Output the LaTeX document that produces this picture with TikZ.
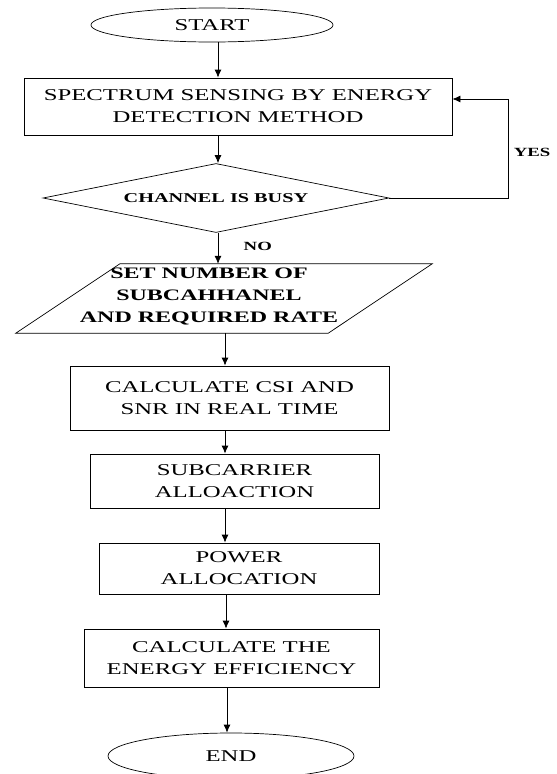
\documentclass[tikz,border=0pt]{standalone}
\usepackage{fontspec}
\usepackage{tikz}
\usetikzlibrary{calc}
\usetikzlibrary{shapes.geometric}
\usetikzlibrary{arrows.meta}
\newfontfamily\flowfont[FakeStretch=1.5]{Liberation Serif}

\tikzset{
    box/.style={draw, line width=0.8pt, rectangle, align=center, inner sep=0pt,
        font=\flowfont\fontsize{16.5}{22}\selectfont},
    terminal/.style={draw, line width=0.7pt, ellipse, inner sep=0pt,
        font=\flowfont\fontsize{16.5}{22}\selectfont},
    decision/.style={draw, line width=0.7pt, diamond, aspect=5, inner sep=0pt,
        font=\flowfont\bfseries\fontsize{13.5}{16}\selectfont},
    flow/.style={line width=0.8pt, -{Latex[length=8pt, width=7pt]}},
    answer/.style={font=\flowfont\bfseries\fontsize{12.5}{15}\selectfont}
}

\begin{document}
\begin{tikzpicture}[x=1pt, y=-1pt]
            \useasboundingbox (0, 0) rectangle (557, 774);
            \node[terminal, minimum width=242pt, minimum height=34pt] (start) at (212, 25) {START};
            \node[box, minimum width=428pt, minimum height=57pt] (sense) at (238, 106.5) {SPECTRUM SENSING BY ENERGY\\DETECTION METHOD};
            \node[decision, minimum width=346pt, minimum height=69pt] (busy) at (216, 198) {CHANNEL IS BUSY};
            \node[minimum width=312pt, minimum height=69pt, inner sep=0pt] (para) at (224, 298.5) {};
            \node[align=center, inner sep=0pt, font=\flowfont\bfseries\fontsize{16}{22}\selectfont] (paratext) at (209, 296) {SET NUMBER OF\\SUBCAHHANEL\\AND REQUIRED RATE};
            \node[box, minimum width=319pt, minimum height=64pt] (csi) at (229.5, 398) {CALCULATE CSI AND\\SNR IN REAL TIME};
            \node[box, minimum width=289pt, minimum height=54pt] (sub) at (234.5, 481) {SUBCARRIER\\ALLOACTION};
            \node[box, minimum width=280pt, minimum height=51pt] (power) at (239, 568.5) {POWER\\ALLOCATION};
            \node[box, minimum width=295pt, minimum height=58pt] (ee) at (231.5, 658) {CALCULATE THE\\ENERGY EFFICIENCY};
            \node[terminal, minimum width=246pt, minimum height=46pt] (end) at (231, 756) {END};
            \coordinate (upper) at (218, 0);
            \coordinate (lower) at (225, 0);
            \coordinate (back) at (508, 99);
            \draw[line width=0.7pt] ([xshift=-52pt]para.south west) -- ([xshift=52pt]para.north west)
                -- ([xshift=52pt]para.north east) -- ([xshift=-52pt]para.south east) -- cycle;
            \draw[flow] (upper|-start.south) -- (upper|-sense.north);
            \draw[flow] (upper|-sense.south) -- (upper|-busy.north);
            \draw[flow] (upper|-busy.south) -- (upper|-para.north) node[pos=0.45, right=22pt, answer] (no) {NO};
            \draw[flow] (busy.east) -| (back) -- (back-|sense.east);
            \node[answer] (yes) at (532, 152) {YES};
            \draw[flow] (lower|-para.south) -- (lower|-csi.north);
            \draw[flow] (lower|-csi.south) -- (lower|-sub.north);
            \draw[flow] (lower|-sub.south) -- (lower|-power.north);
            \draw[flow] ([xshift=1pt]lower|-power.south) -- ([xshift=1pt]lower|-ee.north);
            \draw[flow] ([xshift=2pt]lower|-ee.south) -- ([xshift=2pt]lower|-end.north);
        \end{tikzpicture}
\end{document}
